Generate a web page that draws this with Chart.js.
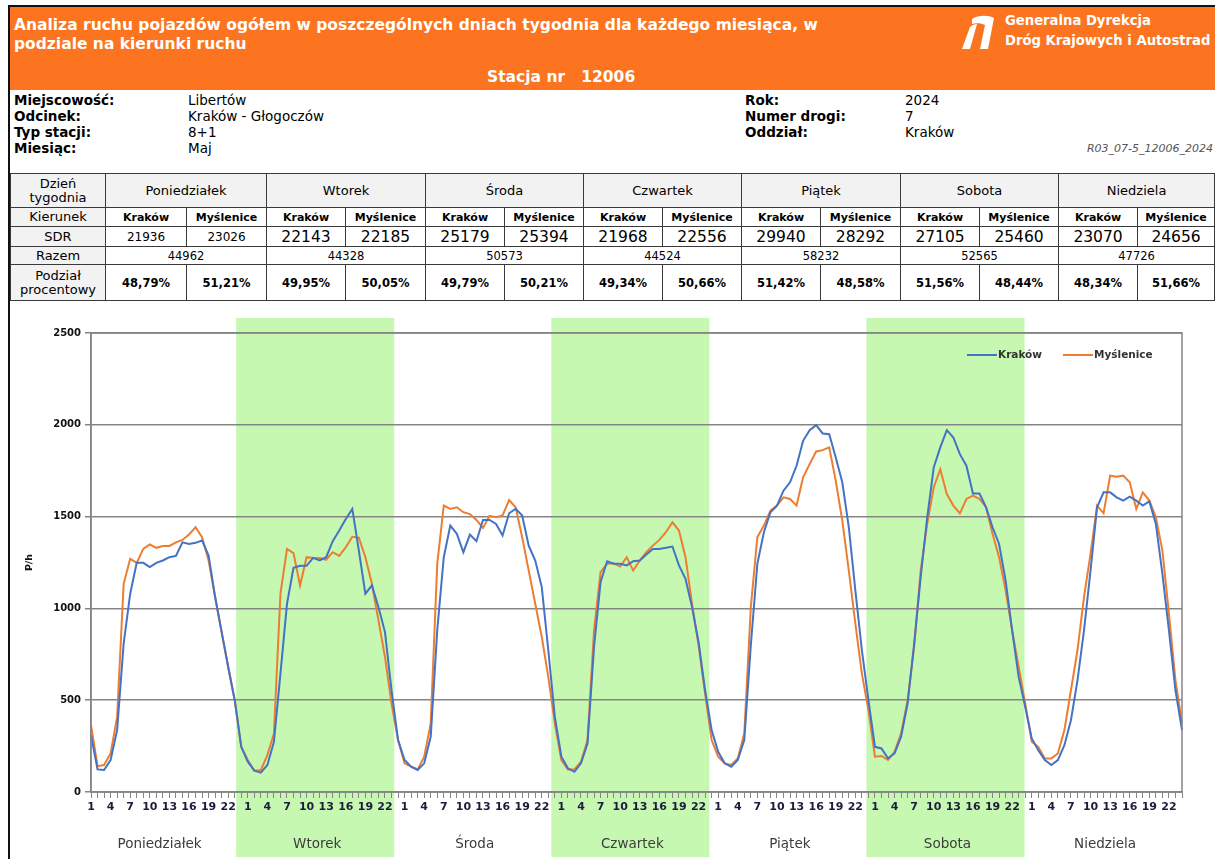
<!DOCTYPE html>
<html lang="pl">
<head>
<meta charset="utf-8">
<title>Stacja 12006 - ruch w dniach tygodnia</title>
<script src="https://cdn.jsdelivr.net/npm/chart.js@4.4.1/dist/chart.umd.min.js"></script>
<style>
  html, body { margin: 0; padding: 0; background: #fff; }
  body { width: 1215px; height: 859px; position: relative; overflow: hidden;
         font-family: "DejaVu Sans", Verdana, sans-serif; color: #000; }
  .frame-top { position: absolute; left: 8px; top: 5px; width: 1207px; height: 2px; background: #111; }
  .frame-left { position: absolute; left: 8px; top: 5px; width: 2px; height: 854px; background: #111; }
  .head { position: absolute; left: 10px; top: 7px; width: 1205px; height: 83px; background: #fc7420; color: #fff; }
  .head .title { position: absolute; left: 4px; top: 9px; font-weight: bold; font-size: 15.5px; line-height: 19px; }
  .head .station { position: absolute; left: 477px; top: 61px; font-weight: bold; font-size: 15.5px; white-space: pre; }
  .head .logo { position: absolute; left: 948px; top: 6px; }
  .head .gddkia { position: absolute; left: 995px; top: 4px; font-weight: bold; font-size: 13.2px; line-height: 20px; }
  .info { position: absolute; top: 92px; font-size: 13.5px; line-height: 16px; }
  .code { position: absolute; right: 2px; top: 142px; font-size: 11px; font-style: italic; color: #555; }
  table.tab { position: absolute; left: 10px; top: 173px; width: 1205px; border-collapse: collapse;
              table-layout: fixed; font-size: 12px; }
  table.tab td { border: 1px solid #3a3a3a; text-align: center; padding: 0; overflow: hidden; white-space: nowrap; }
  table.tab tr.hd td { height: 33px; background: #f2f2f2; font-size: 13px; }
  table.tab tr.kier td { height: 18px; font-weight: bold; font-size: 11px; }
  table.tab tr.sdr td { height: 19px; font-size: 15.5px; }
  table.tab tr.sdr td.small { font-size: 12px; }
  table.tab tr.raz td { height: 17px; font-size: 11.5px; }
  table.tab tr.pod td { height: 35px; font-weight: bold; font-size: 11.5px; }
  table.tab tr td.lab { background: #f2f2f2; font-size: 13px; line-height: 14px; font-weight: normal; }
  #chart { position: absolute; left: 12px; top: 305px; }
</style>
</head>
<body>
<div class="frame-top"></div>
<div class="frame-left"></div>
<div class="head">
  <div class="title">Analiza ruchu pojazdów ogółem w poszczególnych dniach tygodnia dla każdego miesiąca, w<br>podziale na kierunki ruchu</div>
  <div class="station">Stacja nr   12006</div>
  <svg class="logo" width="40" height="38" viewBox="0 0 40 38">
    <path d="M14 6 C20 2 30 2 36 5 L30 36 L22 36 L27 12 C23 10 18 10 14 11 Z" fill="#fff"/>
    <path d="M4 36 L12 14 C14 12 17 11 19 11 L12 36 Z" fill="#fff"/>
  </svg>
  <div class="gddkia">Generalna Dyrekcja<br>Dróg Krajowych i Autostrad</div>
</div>

<div class="info" style="left:14px"><b>Miejscowość:</b><br><b>Odcinek:</b><br><b>Typ stacji:</b><br><b>Miesiąc:</b></div>
<div class="info" style="left:188px">Libertów<br>Kraków - Głogoczów<br>8+1<br>Maj</div>
<div class="info" style="left:745px"><b>Rok:</b><br><b>Numer drogi:</b><br><b>Oddział:</b></div>
<div class="info" style="left:905px">2024<br>7<br>Kraków</div>
<div class="code">R03_07-5_12006_2024</div>

<table class="tab" id="tab">
  <colgroup>
    <col style="width:95px">
    <col style="width:81px"><col style="width:80px">
    <col style="width:79px"><col style="width:80px">
    <col style="width:79px"><col style="width:79px">
    <col style="width:79px"><col style="width:79px">
    <col style="width:79px"><col style="width:80px">
    <col style="width:79px"><col style="width:79px">
    <col style="width:79px"><col style="width:77px">
  </colgroup>
  <tbody id="tbody"></tbody>
</table>

<canvas id="chart" width="1203" height="554"></canvas>

<script>
// ---- data ----
const DAYS = ["Poniedziałek", "Wtorek", "Środa", "Czwartek", "Piątek", "Sobota", "Niedziela"];
const DIRECTIONS = ["Kraków", "Myślenice"];
const HOURS = ["1","2","3","4","5","6","7","8","9","10","11","12","13","14","15","16","17","18","19","20","21","22","23","24"];

const SDR_KRAKOW    = [21936, 22143, 25179, 21968, 29940, 27105, 23070];
const SDR_MYSLENICE = [23026, 22185, 25394, 22556, 28292, 25460, 24656];
const RAZEM         = [44962, 44328, 50573, 44524, 58232, 52565, 47726];
const PCT_KRAKOW    = ["48,79%", "49,95%", "49,79%", "49,34%", "51,42%", "51,56%", "48,34%"];
const PCT_MYSLENICE = ["51,21%", "50,05%", "50,21%", "50,66%", "48,58%", "48,44%", "51,66%"];

// hourly traffic [P/h], Monday hour 1 .. Sunday hour 24
const KRAKOW = [
  310, 123, 120, 174, 337, 808, 1080, 1248, 1248, 1225, 1248, 1261, 1279, 1286, 1360, 1351, 1357, 1370, 1288, 1062, 871, 681, 500, 246,
  165, 116, 105, 147, 274, 645, 1025, 1221, 1232, 1232, 1275, 1261, 1279, 1366, 1424, 1487, 1542, 1315, 1080, 1125, 1007, 871, 554, 283,
  174, 138, 120, 156, 301, 880, 1279, 1451, 1406, 1306, 1402, 1366, 1482, 1482, 1460, 1397, 1518, 1542, 1506, 1342, 1261, 1116, 772, 409,
  192, 129, 110, 156, 264, 790, 1143, 1257, 1243, 1243, 1234, 1257, 1261, 1293, 1324, 1324, 1330, 1337, 1234, 1161, 1007, 817, 554, 337,
  219, 156, 138, 174, 283, 800, 1243, 1415, 1524, 1560, 1641, 1687, 1777, 1913, 1971, 1998, 1953, 1949, 1822, 1687, 1442, 1098, 772, 500,
  246, 237, 183, 210, 301, 482, 808, 1170, 1496, 1768, 1877, 1971, 1931, 1840, 1777, 1626, 1626, 1551, 1442, 1351, 1152, 880, 627, 464,
  292, 228, 174, 147, 174, 255, 391, 608, 880, 1206, 1551, 1632, 1632, 1605, 1587, 1609, 1587, 1560, 1583, 1460, 1188, 880, 554, 337
];
const MYSLENICE = [
  364, 141, 147, 210, 409, 1134, 1270, 1248, 1324, 1348, 1330, 1340, 1340, 1360, 1373, 1402, 1442, 1388, 1261, 1062, 871, 681, 500, 246,
  174, 116, 120, 201, 319, 1080, 1324, 1301, 1125, 1279, 1275, 1275, 1265, 1306, 1286, 1333, 1390, 1385, 1279, 1134, 935, 736, 482, 283,
  156, 138, 123, 192, 373, 1243, 1560, 1542, 1551, 1524, 1514, 1482, 1438, 1504, 1496, 1506, 1590, 1551, 1388, 1206, 1025, 844, 627, 373,
  174, 123, 123, 165, 283, 880, 1197, 1243, 1246, 1228, 1279, 1206, 1261, 1306, 1342, 1373, 1415, 1469, 1424, 1279, 1025, 799, 536, 283,
  192, 156, 147, 183, 319, 1007, 1388, 1451, 1533, 1560, 1605, 1596, 1560, 1714, 1786, 1855, 1862, 1877, 1695, 1478, 1206, 917, 645, 446,
  192, 196, 174, 219, 319, 500, 790, 1206, 1460, 1660, 1758, 1623, 1560, 1518, 1596, 1614, 1596, 1551, 1406, 1279, 1098, 880, 681, 482,
  274, 246, 183, 183, 210, 337, 554, 772, 1062, 1297, 1560, 1518, 1723, 1717, 1723, 1687, 1542, 1632, 1587, 1496, 1315, 971, 608, 373
];

const SHADED_DAYS = [1, 3, 5];   // Wtorek, Czwartek, Sobota
const Y_TICKS = [0, 500, 1000, 1500, 2000, 2500];

const BLUE = "#4472c4";
const ORANGE = "#ed7d31";
const BAND = "#c6f8b2";
const GRID = "#858585";
const FONT = "'DejaVu Sans', Verdana, sans-serif";
const DAY_STEP = 24.12;   // day group width in hour slots (as laid out in the report)

// ---- summary table ----
(function buildTable() {
  const tb = document.getElementById("tbody");
  let html = '<tr class="hd"><td class="lab">Dzień<br>tygodnia</td>';
  DAYS.forEach(d => { html += '<td colspan="2">' + d + '</td>'; });
  html += '</tr><tr class="kier"><td class="lab">Kierunek</td>';
  DAYS.forEach(() => { html += '<td>' + DIRECTIONS[0] + '</td><td>' + DIRECTIONS[1] + '</td>'; });
  html += '</tr><tr class="sdr"><td class="lab">SDR</td>';
  DAYS.forEach((d, i) => {
    const cls = i === 0 ? ' class="small"' : '';
    html += '<td' + cls + '>' + SDR_KRAKOW[i] + '</td><td' + cls + '>' + SDR_MYSLENICE[i] + '</td>';
  });
  html += '</tr><tr class="raz"><td class="lab">Razem</td>';
  DAYS.forEach((d, i) => { html += '<td colspan="2">' + RAZEM[i] + '</td>'; });
  html += '</tr><tr class="pod"><td class="lab">Podział<br>procentowy</td>';
  DAYS.forEach((d, i) => { html += '<td>' + PCT_KRAKOW[i] + '</td><td>' + PCT_MYSLENICE[i] + '</td>'; });
  html += '</tr>';
  tb.innerHTML = html;
})();

// ---- chart ----
const labels = DAYS.flatMap(() => HOURS);

function slotPx(x, v) {
  const p0 = x.getPixelForValue(0), p1 = x.getPixelForValue(labels.length - 1);
  return p0 + v * (p1 - p0) / (labels.length - 1);
}

// green day bands, day names under the axis, plot frame and legend
const dayDecor = {
  id: "dayDecor",
  beforeDraw(chart) {
    const { ctx, chartArea, scales: { x } } = chart;
    ctx.save();
    ctx.fillStyle = BAND;
    SHADED_DAYS.forEach(d => {
      const x0 = slotPx(x, d * DAY_STEP - 1.9), x1 = slotPx(x, d * DAY_STEP + 22.3);
      ctx.fillRect(x0, chartArea.top - 15, x1 - x0, chart.height - chartArea.top + 13);
    });
    ctx.restore();
  },
  afterDraw(chart) {
    const { ctx, chartArea, scales: { x } } = chart;
    ctx.save();
    // plot frame
    ctx.strokeStyle = GRID;
    ctx.lineWidth = 1.5;
    ctx.strokeRect(chartArea.left, chartArea.top, chartArea.right - chartArea.left, chartArea.bottom - chartArea.top);
    // day names
    ctx.fillStyle = "#3c3c3c";
    ctx.font = "13.5px " + FONT;
    ctx.textAlign = "center";
    ctx.textBaseline = "alphabetic";
    DAYS.forEach((d, i) => ctx.fillText(d, slotPx(x, i * DAY_STEP + 10.5), chartArea.bottom + 56));
    // legend
    const items = [[BLUE, "Kraków", 955], [ORANGE, "Myślenice", 1051]];
    ctx.font = "bold 10.5px " + FONT;
    ctx.textAlign = "left";
    ctx.textBaseline = "middle";
    items.forEach(([c, t, lx]) => {
      ctx.strokeStyle = c;
      ctx.lineWidth = 2;
      ctx.beginPath();
      ctx.moveTo(lx, chartArea.top + 22);
      ctx.lineTo(lx + 30, chartArea.top + 22);
      ctx.stroke();
      ctx.fillStyle = "#333";
      ctx.fillText(t, lx + 31, chartArea.top + 22);
    });
    ctx.restore();
  }
};

new Chart(document.getElementById("chart"), {
  type: "line",
  data: {
    labels,
    datasets: [
      { label: DIRECTIONS[0], data: KRAKOW, borderColor: BLUE, backgroundColor: BLUE, borderWidth: 2, pointRadius: 0, tension: 0 },
      { label: DIRECTIONS[1], data: MYSLENICE, borderColor: ORANGE, backgroundColor: ORANGE, borderWidth: 2, pointRadius: 0, tension: 0 }
    ]
  },
  options: {
    responsive: false,
    animation: false,
    layout: { padding: { top: 28, right: 33, left: 0, bottom: 0 } },
    plugins: { legend: { display: false }, tooltip: { enabled: false } },
    scales: {
      x: {
        afterFit: s => { s.height = 67; },
        grid: { drawOnChartArea: false, drawTicks: true, tickLength: 6, color: GRID, lineWidth: 1 },
        border: { color: GRID, width: 1.5 },
        ticks: {
          autoSkip: false, maxRotation: 0, padding: 3,
          color: "#1c1c3c",
          font: { family: FONT, size: 11, weight: "bold" },
          callback: (v, i) => (i % 24) % 3 === 0 ? labels[i] : ""
        }
      },
      y: {
        min: 0, max: 2500,
        afterFit: s => { s.width = 79; },
        afterBuildTicks: s => { s.ticks = Y_TICKS.map(v => ({ value: v })); },
        grid: { color: GRID, lineWidth: 1.5, tickLength: 6 },
        border: { color: GRID, width: 1.5 },
        ticks: {
          padding: 4, color: "#111",
          font: { family: FONT, size: 10, weight: "bold" },
          callback: v => String(v)
        },
        title: {
          display: true, text: "P/h", color: "#111",
          font: { family: FONT, size: 9.5, weight: "bold" },
          padding: { top: 12, bottom: 0 }
        }
      }
    }
  },
  plugins: [dayDecor]
});
</script>
</body>
</html>
